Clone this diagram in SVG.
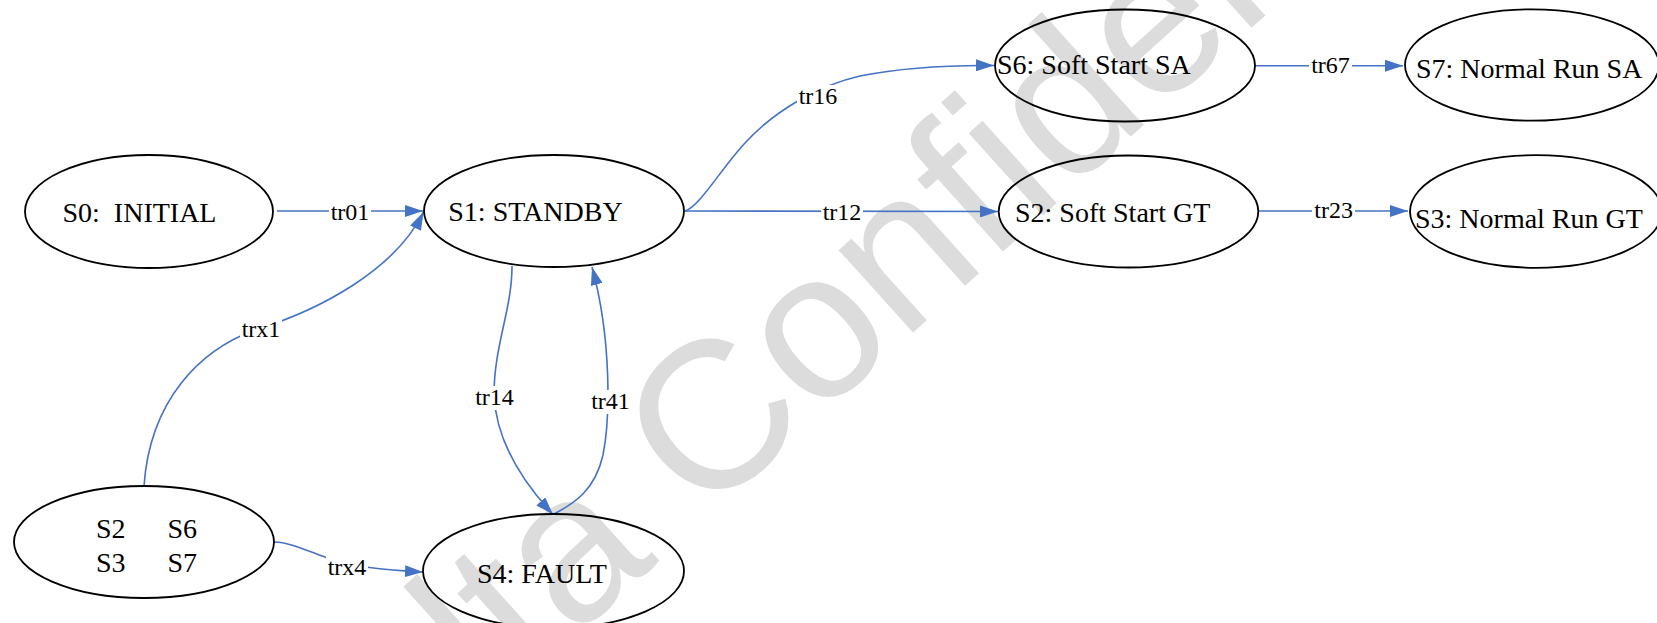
<svg xmlns="http://www.w3.org/2000/svg" width="1657" height="623" viewBox="0 0 1657 623">
<defs>
<style>
.node ellipse{fill:none;stroke:#000;stroke-width:1.8}
.node text{font-family:"Liberation Serif","Times New Roman",serif;font-size:28px;fill:#000;white-space:pre}
.edge path{fill:none;stroke:#4472C4;stroke-width:1.6}
.lbl rect{fill:#fff}
.lbl text{font-family:"Liberation Serif","Times New Roman",serif;font-size:24px;fill:#000;text-anchor:middle}
.wm{font-family:"Liberation Sans",Arial,sans-serif;font-size:210px;fill:#dcdcdc}
</style>
<marker id="arr" markerUnits="userSpaceOnUse" markerWidth="18" markerHeight="12" refX="18" refY="6" orient="auto">
<path d="M0,0 L18,6 L0,12 z" fill="#4472C4"/>
</marker>
</defs>
<rect width="1657" height="623" fill="#fff"/>
<text class="wm" x="295.2" y="888.9" transform="rotate(-42 295.2 888.9)">Delta Confidential</text>

<g id="connectors" class="edge">
<path marker-end="url(#arr)" d="M277,211 L423,211"/>
<path marker-end="url(#arr)" d="M685,211 L998,211.5"/>
<path marker-end="url(#arr)" d="M685,211 C700,206 720,170 745,143 C775,110 820,85 860,76 C900,68 950,65 994,65.5"/>
<path marker-end="url(#arr)" d="M1254,65.7 L1403,65.7"/>
<path marker-end="url(#arr)" d="M1258,211 L1408,211"/>
<path marker-end="url(#arr)" d="M512,266 C512,310 494,345 494,395 C496,440 521,480 553,514.5"/>
<path marker-end="url(#arr)" d="M554,514 C575,503 595,490 603,455 C610,420 612,340 592,267"/>
<path marker-end="url(#arr)" d="M144,486 C150,400 200,350 255,330 C320,310 395,270 423.5,212"/>
<path marker-end="url(#arr)" d="M274,542 C290,542 310,552 330,559 C350,566 380,570 423,572"/>
<g class="lbl">
<rect x="329" y="202" width="42" height="22"/><text x="350" y="220">tr01</text>
<rect x="821" y="202" width="42" height="22"/><text x="842" y="220">tr12</text>
<rect x="797" y="85" width="42" height="22"/><text x="818" y="104">tr16</text>
<rect x="1309" y="55" width="43" height="22"/><text x="1330.5" y="72.7">tr67</text>
<rect x="1312" y="200" width="43" height="22"/><text x="1333.6" y="218">tr23</text>
<rect x="473" y="386" width="43" height="24"/><text x="494.5" y="405">tr14</text>
<rect x="589" y="390" width="43" height="24"/><text x="610.5" y="409">tr41</text>
<rect x="240" y="318" width="42" height="23"/><text x="261" y="337">trx1</text>
<rect x="326" y="556" width="42" height="23"/><text x="347" y="575">trx4</text>
</g>
</g>

<g id="S0" class="node"><ellipse cx="149" cy="211.5" rx="124" ry="56.5"/><text x="62.5" y="221.7">S0:  INITIAL</text></g>
<g id="S1" class="node"><ellipse cx="554" cy="211" rx="130" ry="56"/><text x="448.3" y="220.7">S1: STANDBY</text></g>
<g id="S6" class="node"><ellipse cx="1125" cy="65.5" rx="130" ry="56"/><text x="997" y="74">S6: Soft Start SA</text></g>
<g id="S7" class="node"><ellipse cx="1532" cy="65" rx="127" ry="55.7"/><text x="1416" y="77.7">S7: Normal Run SA</text></g>
<g id="S2" class="node"><ellipse cx="1128.5" cy="211.5" rx="129.8" ry="56"/><text x="1015" y="221.7">S2: Soft Start GT</text></g>
<g id="S3" class="node"><ellipse cx="1536" cy="211.5" rx="126" ry="56.3"/><text x="1415" y="227.7">S3: Normal Run GT</text></g>
<g id="S4" class="node"><ellipse cx="553.5" cy="571" rx="130.5" ry="57"/><text x="477" y="582.5">S4: FAULT</text></g>
<g id="SX" class="node"><ellipse cx="144" cy="542" rx="130" ry="56"/><text x="96" y="538.3">S2</text><text x="167.4" y="538.3">S6</text><text x="96" y="571.7">S3</text><text x="167.4" y="571.7">S7</text></g>
</svg>
